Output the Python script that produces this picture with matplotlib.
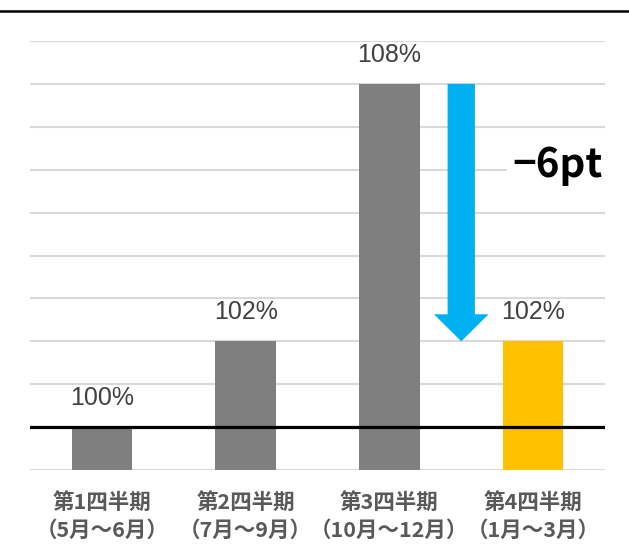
import matplotlib
matplotlib.use("Agg")
import matplotlib.pyplot as plt
from matplotlib.lines import Line2D

plt.rcParams['font.family'] = ['Noto Sans CJK JP', 'DejaVu Sans']

# data
quarters = ['第1四半期\n（5月～6月）', '第2四半期\n（7月～9月）',
            '第3四半期\n（10月～12月）', '第4四半期\n（1月～3月）']
values = [100, 102, 108, 102]
bar_colors = ['#7F7F7F', '#7F7F7F', '#7F7F7F', '#FFC000']
diff_label = '−6pt'

fig = plt.figure(figsize=(6.29, 5.59), dpi=100)
ax = fig.add_axes([30/629, 89/559, 575/629, 429/559])

x = list(range(len(values)))
ax.bar(x, values, width=0.42, color=bar_colors, zorder=2)

ax.set_xlim(-0.5, 3.5)
ax.set_ylim(99, 109)
ax.set_yticks(range(99, 110))
ax.yaxis.grid(True, color='#D9D9D9', linewidth=1.5, zorder=0)
ax.set_axisbelow(True)
for s in ax.spines.values():
    s.set_visible(False)
ax.tick_params(axis='y', left=False, labelleft=False)
ax.tick_params(axis='x', bottom=False, pad=12)
ax.set_xticks(x)
ax.set_xticklabels(quarters, fontsize=15.5, fontweight='bold', color='#595959',
                   linespacing=1.45)

# value labels
for xi, v in zip(x, values):
    ax.annotate(f'{v}%', (xi, v), xytext=(0, 21), textcoords='offset points',
                ha='center', va='center', fontsize=18, color='#404040',
                family=['Liberation Sans', 'DejaVu Sans'])

# baseline at first quarter
ax.axhline(values[0], color='black', linewidth=2.3, zorder=3)

# change arrow from Q3 to Q4
ax.arrow(2.5, values[2], 0, values[3] - values[2], width=0.19, head_width=0.38,
         head_length=0.63, length_includes_head=True, color='#00B0F0',
         linewidth=0, zorder=3)
ax.text(3.17, 106.1, diff_label, ha='center', va='center', fontsize=29,
        fontweight='bold', color='black', zorder=4,
        bbox=dict(facecolor='white', edgecolor='none', pad=4))

# frame line on top
fig.add_artist(Line2D([0, 1], [1 - 11/559, 1 - 11/559], color='black', linewidth=1.8))

fig.savefig('out.png', dpi=100)
